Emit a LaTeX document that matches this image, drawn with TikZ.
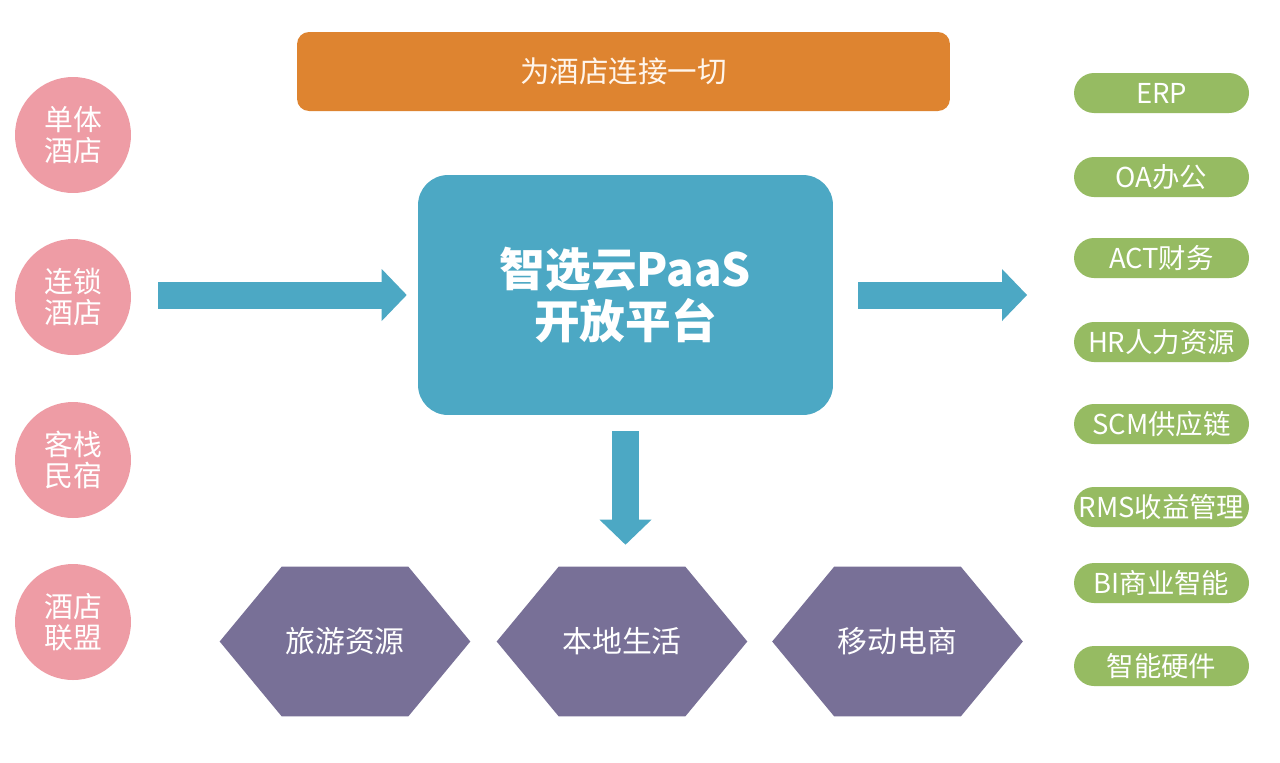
\documentclass[tikz,border=0pt]{standalone}
\usepackage{fontspec}
\setmainfont{Noto Sans CJK SC}
\usetikzlibrary{arrows.meta,backgrounds}
\definecolor{hotelpink}{HTML}{EE9CA5}
\definecolor{slogangold}{HTML}{DE8430}
\definecolor{hubblue}{HTML}{4CA8C4}
\definecolor{bizpurple}{HTML}{787097}
\definecolor{sysgreen}{HTML}{96BB62}
\tikzset{
  hotel/.style={circle,fill=hotelpink,minimum size=2.32cm,inner sep=0,align=center,text=white,font=\fontsize{16.4}{17.5}\selectfont},
  sys/.style={rounded corners=0.4cm,fill=sysgreen,minimum width=3.5cm,minimum height=0.8cm,inner sep=0,text=white,font=\fontsize{15.6}{18}\selectfont},
  biz/.style={minimum width=5cm,minimum height=2.98cm,inner sep=0,text=white,font=\fontsize{17}{20}\selectfont},
  bigarrow/.style={draw=hubblue,line width=0.54cm,-{Triangle[length=0.5cm,width=1.04cm,line width=0pt]}}
}
\begin{document}
\begin{tikzpicture}[x=0.02cm,y=-0.02cm]
  \useasboundingbox (0,0) rectangle (1280,762);
  \node[fill=slogangold,rounded corners=0.24cm,minimum width=13.06cm,minimum height=1.58cm,text={white!92!orange},font=\fontsize{16.8}{20}\selectfont] (slogan) at (623.5,71.5) {为酒店连接一切};
  \node[fill=hubblue,rounded corners=0.6cm,minimum width=8.3cm,minimum height=4.8cm,align=center,text=white,font=\fontsize{26}{29.5}\selectfont\bfseries] (hub) at (625.5,295) {智选云PaaS\\开放平台};
  \foreach \name/\y/\txt in {single/135/{单体\\酒店},chain/297/{连锁\\酒店},inn/460/{客栈\\民宿},league/622/{酒店\\联盟}}
    \node[hotel] (\name) at (73,\y) {\txt};
  \foreach \name/\y/\txt in {erp/93/ERP,oa/177/OA办公,act/258/ACT财务,hr/342/HR人力资源,scm/424/SCM供应链,rms/507/RMS收益管理,bi/583/BI商业智能,hw/666/智能硬件}
    \node[sys] (\name) at (1161.5,\y) {\txt};
  \foreach \name/\x/\txt in {travel/345/旅游资源,local/622/本地生活,shop/897.5/移动电商}
    \node[biz] (\name) at (\x,641.5) {\txt};
  \begin{scope}[on background layer]
    \fill[white] (0,0) rectangle (1280,762);
    \foreach \n in {travel,local,shop}
      \fill[bizpurple] (\n.west) -- ([xshift=1.24cm]\n.north west) -- ([xshift=-1.24cm]\n.north east) -- (\n.east) -- ([xshift=-1.24cm]\n.south east) -- ([xshift=1.24cm]\n.south west) -- cycle;
  \end{scope}
  \coordinate (inflow) at (158,295);
  \coordinate (outflow) at (1027,295);
  \draw[bigarrow] (inflow) -- ([xshift=-0.22cm]hub.west);
  \draw[bigarrow] ([xshift=0.5cm]hub.east) -- (outflow);
  \draw[bigarrow] ([yshift=-0.32cm]hub.south) -- ([yshift=0.44cm]hub.south |- local.north);
\end{tikzpicture}
\end{document}
